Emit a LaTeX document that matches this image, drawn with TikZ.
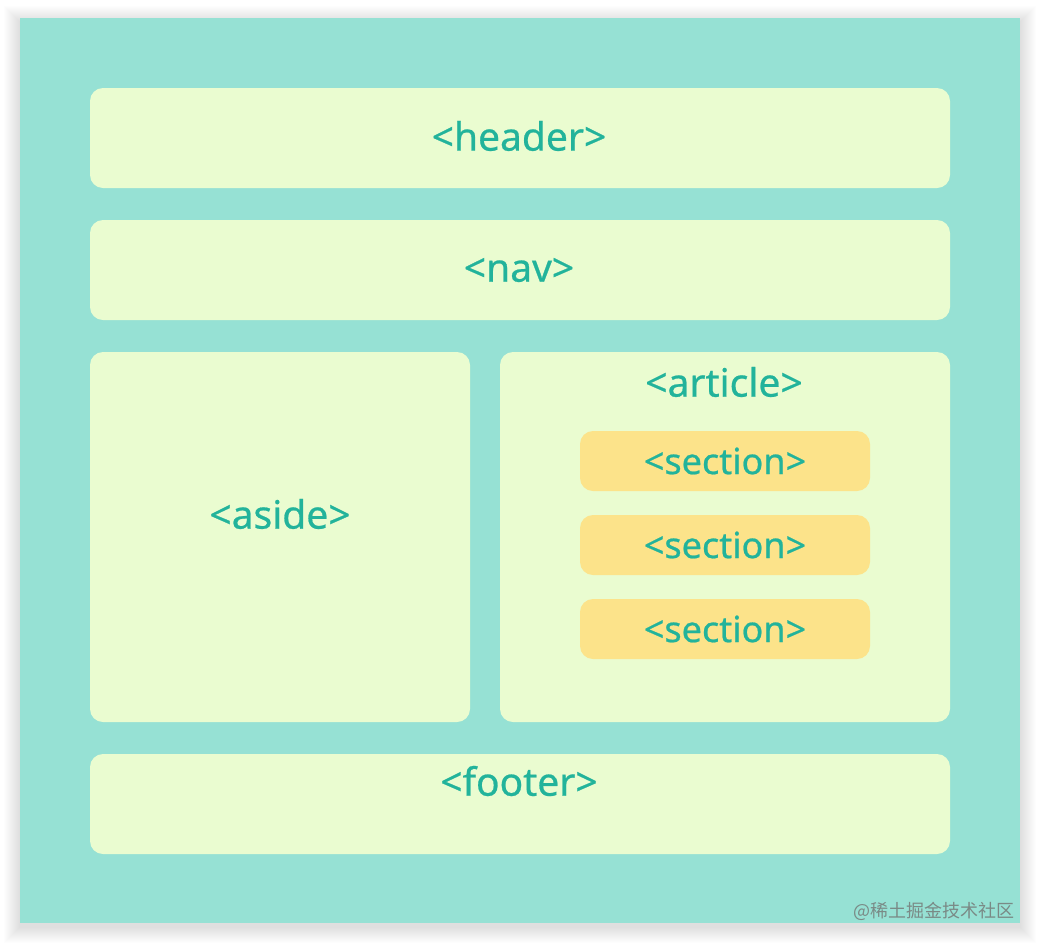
\documentclass[tikz,border=0pt]{standalone}
\usepackage{fontspec}
\setmainfont{Noto Sans}
\newfontfamily\labfont[FakeBold=0.6]{Noto Sans}
\newfontfamily\cjk{Noto Sans CJK SC}
\definecolor{teal}{HTML}{96E1D4}
\definecolor{pale}{HTML}{EAFCD0}
\definecolor{yel}{HTML}{FCE38A}
\definecolor{txt}{HTML}{22B39B}
\definecolor{wmgray}{HTML}{7A8A86}
\begin{document}
\begin{tikzpicture}[x=1pt,y=-1pt,
  panel/.style={fill=pale,rounded corners=13pt},
  secbox/.style={fill=yel,rounded corners=13pt},
  lab/.style={text=txt,font=\labfont\fontsize{39}{44}\selectfont,inner sep=0pt},
  seclab/.style={text=txt,font=\labfont\fontsize{36}{40}\selectfont,inner sep=0pt}]
\useasboundingbox (0,0) rectangle (1040,946);
\fill[white] (0,0) rectangle (1040,946);
% shadow
\foreach \i in {1,...,16}{
  \fill[black,opacity=0.006] (20-\i,18-\i+4) rectangle (1020+\i,923+\i+4);
}
\fill[teal] (20,18) rectangle (1020,923);
\fill[panel] (90,88) rectangle (950,188);
\fill[panel] (90,220) rectangle (950,320);
\fill[panel] (90,352) rectangle (470,722);
\fill[panel] (500,352) rectangle (950,722);
\fill[panel] (90,754) rectangle (950,854);
\fill[secbox] (580,431) rectangle (870,491);
\fill[secbox] (580,515) rectangle (870,575);
\fill[secbox] (580,599) rectangle (870,659);
\node[lab] (header) at (519,136) {<header>};
\node[lab] (nav) at (519,270) {<nav>};
\node[lab] (aside) at (280,514) {<aside>};
\node[lab] (article) at (724,382) {<article>};
\node[seclab] (s1) at (725,461) {<section>};
\node[seclab] (s2) at (725,545) {<section>};
\node[seclab] (s3) at (725,629) {<section>};
\node[lab] (footer) at (519,781) {<footer>};
\node[text=wmgray,font=\cjk\fontsize{18}{20}\selectfont,anchor=east,inner sep=0pt] (wm) at (1015,911) {@稀土掘金技术社区};
\end{tikzpicture}
\end{document}
